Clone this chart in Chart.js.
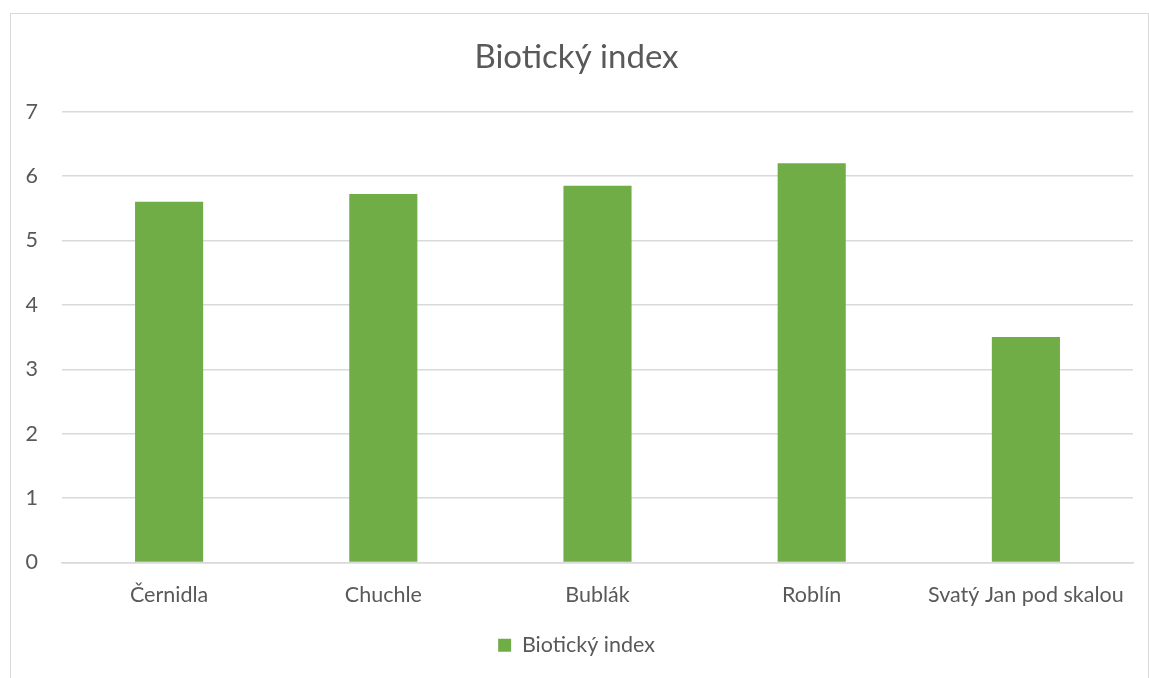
<!DOCTYPE html>
<html>
<head>
<meta charset="utf-8">
<script src="https://cdn.jsdelivr.net/npm/chart.js@4"></script>
<style>
  body { margin: 0; background: #fff; }
  #frame { position: absolute; left: 10px; top: 13px; width: 1137px; height: 700px; border: 1px solid #d9d9d9; }
  #wrap { position: absolute; left: 0; top: 0; width: 1149px; height: 678px; }
</style>
</head>
<body>
<div id="frame"></div>
<div id="wrap"><canvas id="myChart"></canvas></div>
<script>
// Data
const categories = ['Černidla', 'Chuchle', 'Bublák', 'Roblín', 'Svatý Jan pod skalou'];
const values = [5.6, 5.72, 5.85, 6.2, 3.5];
const seriesName = 'Biotický index';
const yTicks = [0, 1, 2, 3, 4, 5, 6, 7];

const textColor = '#595959';
const gridColor = '#d9d9d9';
const font = 'Lato, "Open Sans", sans-serif';

const canvas = document.getElementById('myChart');
const myChart = new Chart(canvas, {
    type: 'bar',
    data: {
        labels: categories,
        datasets: [{
            label: seriesName,
            data: values,
            backgroundColor: '#70ad47',
            borderWidth: 0,
            categoryPercentage: 1,
            barPercentage: 0.318
        }]
    },
    options: {
        responsive: true,
        maintainAspectRatio: false,
        animation: false,
        layout: { padding: { left: 20, right: 16, top: 0, bottom: 12 } },
        plugins: {
            title: {
                display: true,
                text: seriesName,
                color: textColor,
                font: { family: font, size: 33, weight: 'normal' },
                padding: { top: 38, bottom: 34 }
            },
            legend: {
                position: 'bottom',
                labels: {
                    color: textColor,
                    font: { family: font, size: 21.5 },
                    boxWidth: 13,
                    boxHeight: 13,
                    padding: 10
                }
            },
            tooltip: { enabled: false }
        },
        scales: {
            x: {
                grid: { display: false, drawTicks: false },
                border: { display: true, color: gridColor, width: 1.5 },
                afterFit: s => { s.height = 62; },
                ticks: { color: textColor, font: { family: font, size: 21.5 }, padding: 20 }
            },
            y: {
                min: yTicks[0],
                max: yTicks[yTicks.length - 1],
                afterBuildTicks: s => { s.ticks = yTicks.map(v => ({ value: v })); },
                afterFit: s => { s.width = 42; },
                grid: { color: gridColor, lineWidth: 1.5, drawTicks: false },
                border: { display: false },
                ticks: { color: textColor, font: { family: font, size: 21.5 }, padding: 24 }
            }
        }
    }
});
</script>
</body>
</html>
